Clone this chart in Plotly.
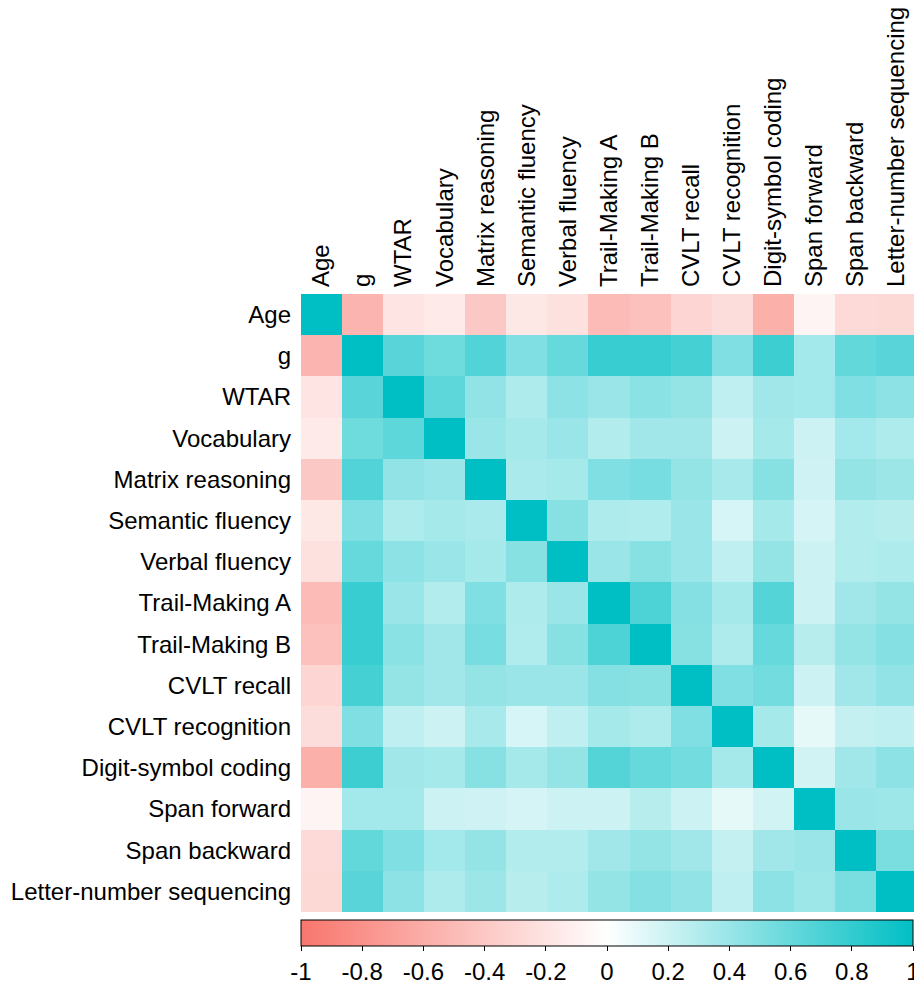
import plotly.graph_objects as go

labels = ["Age", "g", "WTAR", "Vocabulary", "Matrix reasoning", "Semantic fluency",
          "Verbal fluency", "Trail-Making A", "Trail-Making B", "CVLT recall",
          "CVLT recognition", "Digit-symbol coding", "Span forward", "Span backward",
          "Letter-number sequencing"]

# upper triangle rows (values to the right of the diagonal)
r_age = [-0.55, -0.20, -0.15, -0.40, -0.17, -0.22, -0.50, -0.45, -0.30, -0.25, -0.58, -0.08, -0.27, -0.28]
r_g = [0.65, 0.57, 0.68, 0.50, 0.60, 0.78, 0.78, 0.73, 0.50, 0.76, 0.36, 0.61, 0.65]
r_wtar = [0.63, 0.43, 0.32, 0.45, 0.40, 0.46, 0.42, 0.25, 0.37, 0.36, 0.50, 0.45]
r_vocab = [0.40, 0.35, 0.40, 0.30, 0.37, 0.37, 0.20, 0.35, 0.20, 0.36, 0.32]
r_matrix = [0.33, 0.35, 0.50, 0.53, 0.42, 0.34, 0.47, 0.19, 0.42, 0.39]
r_semantic = [0.47, 0.32, 0.31, 0.40, 0.16, 0.35, 0.17, 0.30, 0.28]
r_verbal = [0.40, 0.47, 0.40, 0.25, 0.42, 0.20, 0.30, 0.32]
r_trailA = [0.70, 0.48, 0.35, 0.67, 0.20, 0.37, 0.42]
r_trailB = [0.47, 0.32, 0.60, 0.28, 0.42, 0.48]
r_cvltrec = [0.50, 0.55, 0.20, 0.37, 0.43]
r_cvltrecog = [0.35, 0.10, 0.23, 0.25]
r_digit = [0.18, 0.37, 0.45]
r_spanf = [0.40, 0.38]
r_spanb = [0.52]

upper = [r_age, r_g, r_wtar, r_vocab, r_matrix, r_semantic, r_verbal, r_trailA,
         r_trailB, r_cvltrec, r_cvltrecog, r_digit, r_spanf, r_spanb, []]

n = len(labels)
z = [[1.0] * n for _ in range(n)]
for i, row in enumerate(upper):
    for k, v in enumerate(row):
        j = i + 1 + k
        z[i][j] = v
        z[j][i] = v

cb_ticks = [-1, -0.8, -0.6, -0.4, -0.2, 0, 0.2, 0.4, 0.6, 0.8, 1]
cb_text = ["-1", "-0.8", "-0.6", "-0.4", "-0.2", "0", "0.2", "0.4", "0.6", "0.8", "1"]

fig = go.Figure(go.Heatmap(
    z=z, x=labels, y=labels, zmin=-1, zmax=1,
    colorscale=[[0, "#F8766D"], [0.5, "#FFFFFF"], [1, "#00BFC4"]],
    xgap=0, ygap=0,
    colorbar=dict(
        orientation="h", x=0, xanchor="left", y=-0.013, yanchor="top",
        len=612, lenmode="pixels", thickness=26, thicknessmode="pixels",
        xpad=0, ypad=0, outlinewidth=1, outlinecolor="black",
        tickvals=cb_ticks, ticktext=cb_text, ticks="outside", ticklen=5,
        tickcolor="black", tickfont=dict(size=24, color="black"),
        ticklabeloverflow="allow",
    ),
))

# page body has an 8px default margin; size the figure to fit the window
fig.update_layout(
    width=914, height=978,
    margin=dict(l=293, r=5, t=286, b=74, autoexpand=False),
    paper_bgcolor="white", plot_bgcolor="white",
    font=dict(family="Liberation Sans, Arial, sans-serif", size=24, color="black"),
    xaxis=dict(side="top", tickangle=-90, ticks="", showgrid=False, zeroline=False,
               showline=False, ticklabelstandoff=6, tickfont=dict(size=24),
               automargin=False),
    yaxis=dict(autorange="reversed", ticks="", showgrid=False, zeroline=False,
               showline=False, ticklabelstandoff=9, tickfont=dict(size=24),
               automargin=False),
)

fig.write_html("out.html")
